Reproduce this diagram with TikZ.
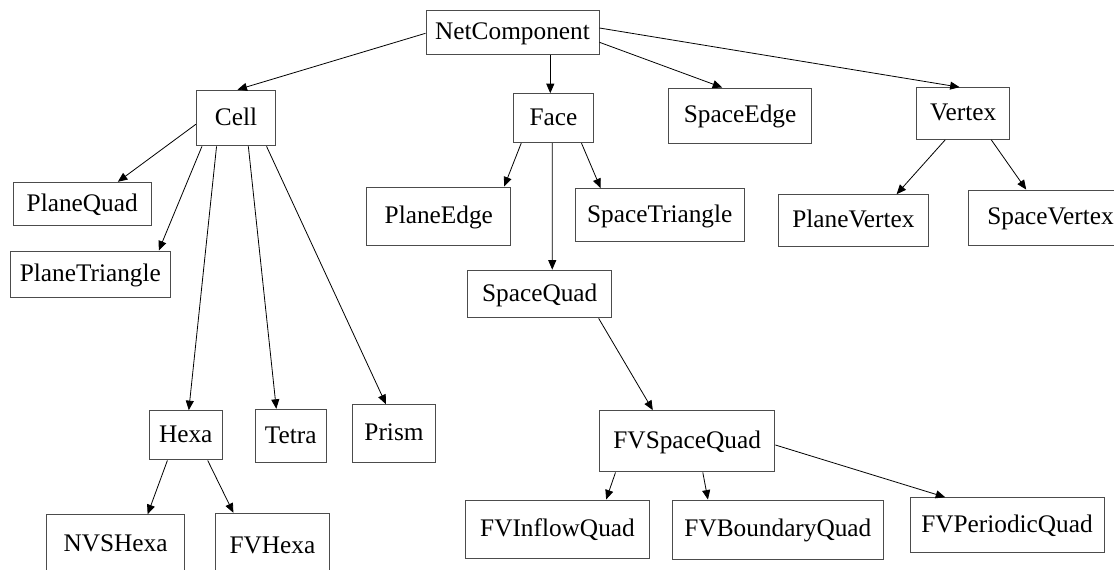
\documentclass[tikz,border=0pt]{standalone}
\usepackage{fontspec}
\setmainfont{Liberation Serif}
\usetikzlibrary{arrows.meta,calc}
\tikzset{
  box/.style={draw=black!70, line width=1pt, rectangle, inner sep=0pt,
    font=\fontsize{25.3}{30}\selectfont, text height=18pt, text depth=3.6pt},
  edge/.style={-{Triangle[length=9.5pt,width=8pt]}, line width=0.8pt, black}
}
\begin{document}
\begin{tikzpicture}[x=1pt,y=-1pt]
\useasboundingbox (0,0) rectangle (1114,570);
\node[box, minimum width=173pt, minimum height=44pt] (net) at (512.5,32) {NetComponent};
\node[box, minimum width=79.3pt, minimum height=55.7pt] (cell) at (236,118) {Cell};
\node[box, minimum width=80.4pt, minimum height=49pt] (face) at (553.5,118.2) {Face};
\node[box, minimum width=143.6pt, minimum height=55pt] (spaceedge) at (740.1,115.5) {SpaceEdge};
\node[box, minimum width=92.5pt, minimum height=51.6pt] (vertex) at (963.2,113.5) {Vertex};
\node[box, minimum width=137.7pt, minimum height=43.4pt] (planequad) at (82.2,204) {PlaneQuad};
\node[box, minimum width=160pt, minimum height=46pt] (planetriangle) at (90.3,274) {PlaneTriangle};
\node[box, minimum width=144pt, minimum height=58pt] (planeedge) at (438.8,216) {PlaneEdge};
\node[box, minimum width=169pt, minimum height=53.3pt] (spacetriangle) at (659.7,215.3) {SpaceTriangle};
\node[box, minimum width=150pt, minimum height=52pt] (planevertex) at (853.4,220.7) {PlaneVertex};
\node[box, minimum width=165pt, minimum height=55.3pt] (spacevertex) at (1050.5,217.7) {SpaceVertex};
\node[box, minimum width=144.3pt, minimum height=47.7pt] (spacequad) at (539.7,294) {SpaceQuad};
\node[box, minimum width=72.8pt, minimum height=49.3pt] (hexa) at (185.7,435.3) {Hexa};
\node[box, minimum width=71.4pt, minimum height=53.4pt] (tetra) at (290.7,436) {Tetra};
\node[box, minimum width=82.1pt, minimum height=58pt] (prism) at (394,433.7) {Prism};
\node[box, minimum width=175.4pt, minimum height=61.3pt] (fvspacequad) at (687.2,441.3) {FVSpaceQuad};
\node[box, minimum width=137.5pt, minimum height=59pt] (nvshexa) at (115.5,544.2) {NVSHexa};
\node[box, minimum width=113.6pt, minimum height=65pt] (fvhexa) at (272.5,545.8) {FVHexa};
\node[box, minimum width=184.7pt, minimum height=58pt] (fvinflow) at (557.5,529) {FVInflowQuad};
\node[box, minimum width=211.7pt, minimum height=59.3pt] (fvboundary) at (777.9,529.7) {FVBoundaryQuad};
\node[box, minimum width=194pt, minimum height=55pt] (fvperiodic) at (1007,525.2) {FVPeriodicQuad};

\draw[edge] ($(net.west)+(0,1.3)$) -- ($(cell.north)+(1.5,0)$);
\draw[edge] ($(net.south)+(37.8,0)$) -- ($(face.north)+(-3.2,0)$);
\draw[edge] ($(net.east)+(0,10.3)$) -- ($(spaceedge.north west)+(54.4,0)$);
\draw[edge] ($(net.east)+(0,-4)$) -- ($(vertex.north west)+(43.2,0)$);
\draw[edge] ($(cell.west)+(0,6.3)$) -- ($(planequad.north west)+(105,0)$);
\draw[edge] ($(cell.south west)+(6.1,0)$) -- ($(planetriangle.north west)+(149,0)$);
\draw[edge] ($(cell.south west)+(20.7,0)$) -- ($(hexa.north west)+(40,0)$);
\draw[edge] ($(cell.south west)+(52.5,0)$) -- ($(tetra.north west)+(21.8,0)$);
\draw[edge] ($(cell.south west)+(70.7,0)$) -- ($(prism.north west)+(33.5,0)$);
\draw[edge] ($(face.south west)+(8.4,0)$) -- ($(planeedge.north east)+(-7.1,0)$);
\draw[edge] ($(face.south west)+(39.4,0)$) -- ($(spacequad.north west)+(85.2,0)$);
\draw[edge] ($(face.south west)+(68.7,0)$) -- ($(spacetriangle.north west)+(25.9,0)$);
\draw[edge] ($(vertex.south west)+(28.8,0)$) -- ($(planevertex.north west)+(118.7,0)$);
\draw[edge] ($(vertex.south west)+(74.8,0)$) -- ($(spacevertex.north west)+(58.7,0)$);
\draw[edge] ($(spacequad.south west)+(131.6,0)$) -- ($(fvspacequad.north west)+(53.8,0)$);
\draw[edge] ($(hexa.south west)+(18.6,0)$) -- ($(nvshexa.north west)+(101.4,0)$);
\draw[edge] ($(hexa.south west)+(58.9,0)$) -- ($(fvhexa.north west)+(18.2,0)$);
\draw[edge] ($(fvspacequad.south west)+(16.5,0)$) -- ($(fvinflow.north west)+(141.5,0)$);
\draw[edge] ($(fvspacequad.south west)+(103.8,0)$) -- ($(fvboundary.north west)+(36.4,0)$);
\draw[edge] ($(fvspacequad.east)+(0,3.7)$) -- ($(fvperiodic.north west)+(35.7,0)$);
\end{tikzpicture}
\end{document}
